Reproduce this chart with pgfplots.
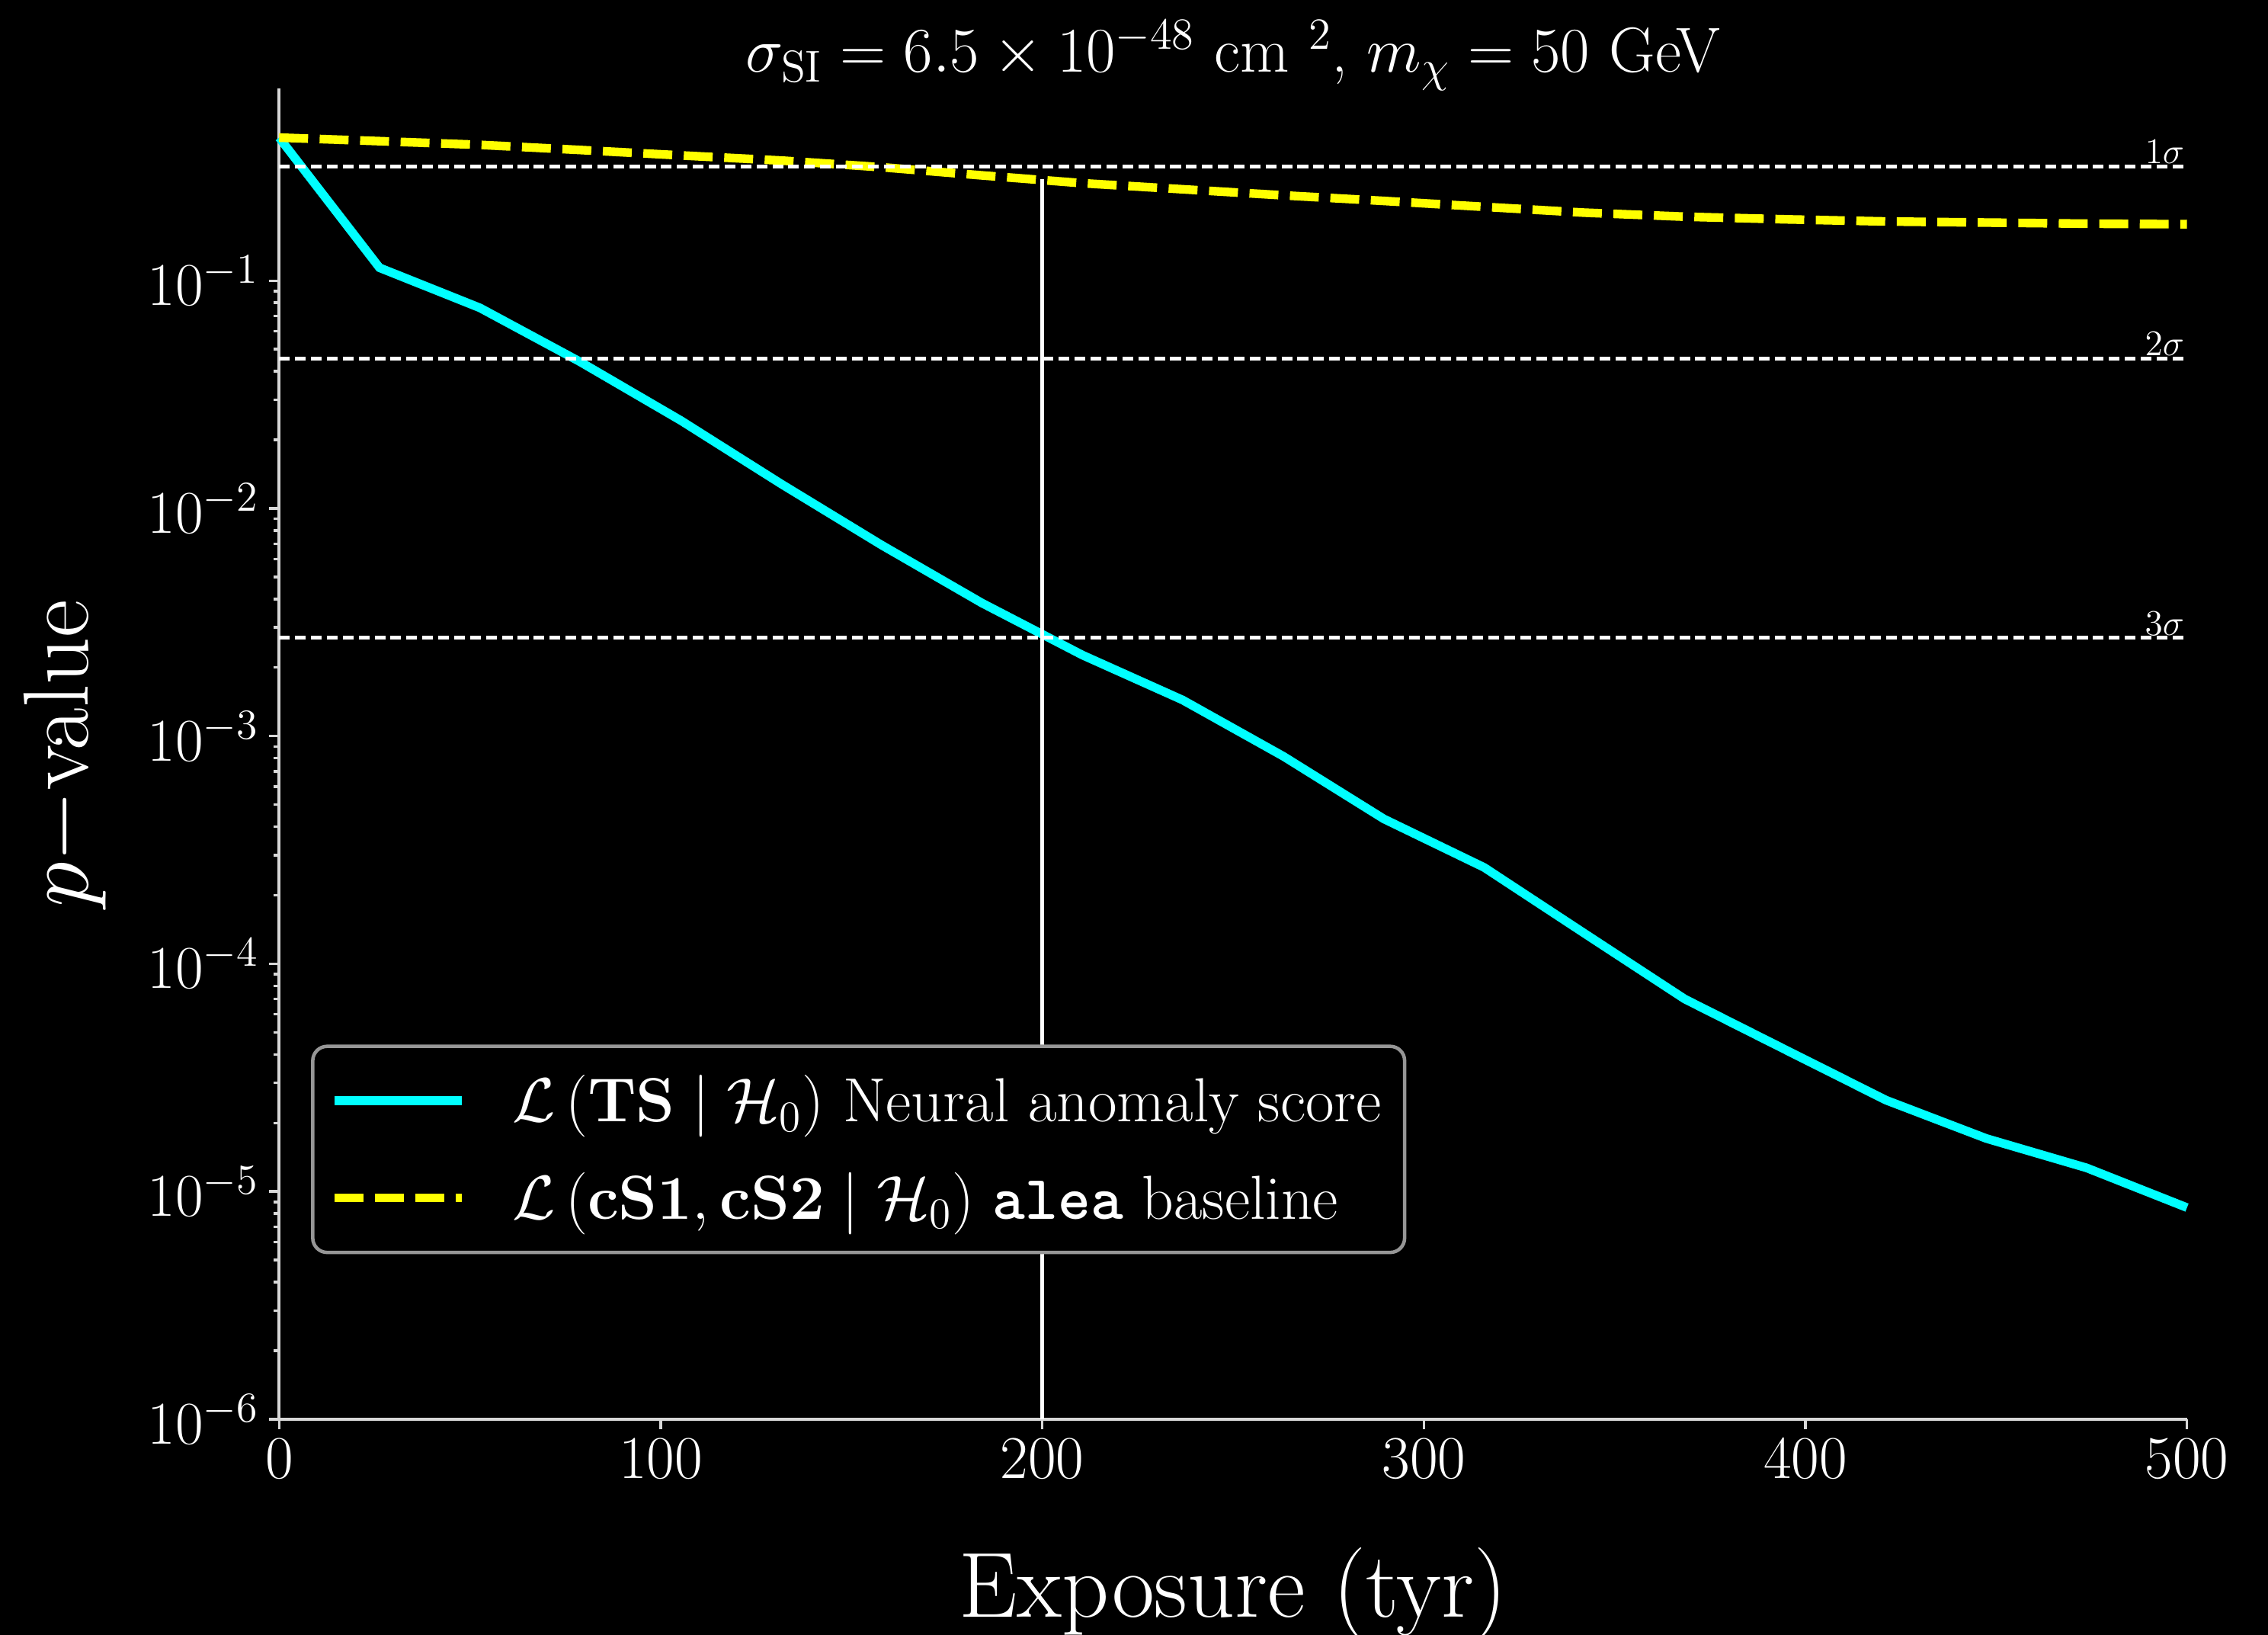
\RequirePackage{fix-cm}
\documentclass[border=0pt]{standalone}
\usepackage{pgfplots}
\usepackage{pgfplotstable}
\pgfplotsset{compat=1.18}

\pgfplotstableread{
x nn base
0 0.425 0.425
26.3 0.114 0.41
52.6 0.076 0.395
78.9 0.044 0.375
105.3 0.0243 0.355
131.6 0.0128 0.337
157.9 0.0069 0.315
184.2 0.00384 0.29
210.5 0.00227 0.268
236.8 0.00144 0.252
263.2 0.000815 0.237
289.5 0.000433 0.224
315.8 0.000265 0.211
342.1 0.000136 0.199
368.4 0.000070 0.191
394.7 0.000042 0.186
421.1 0.0000252 0.182
447.4 0.0000171 0.180
473.7 0.0000127 0.178
500 0.0000085 0.177
}\datatable

\definecolor{cyanc}{RGB}{0,255,255}
\definecolor{yellowc}{RGB}{255,255,0}
\definecolor{spinec}{RGB}{215,215,215}
\definecolor{legedge}{RGB}{150,150,150}

\begin{document}
\begin{tikzpicture}
\path[use as bounding box, fill=black] (-96.5pt,-74.5pt) rectangle (687.5pt,490.5pt);
\begin{axis}[
  at={(0pt,0pt)}, anchor=south west,
  scale only axis, width=659.5pt, height=460pt,
  xmin=0, xmax=500, ymode=log, ymin=1e-6, ymax=0.7,
  axis x line*=bottom, axis y line*=left,
  axis line style={spinec, line width=1pt},
  xtick={0,100,200,300,400,500},
  ytick={1e-6,1e-5,1e-4,1e-3,1e-2,1e-1},
  tick align=outside,
  major tick length=3.5pt, minor tick length=2pt,
  every tick/.style={spinec, line width=0.9pt},
  tick label style={white, font=\fontsize{21}{25}\selectfont},
  legend style={at={(0.0167,0.124)}, anchor=south west, draw=legedge, fill=black,
    rounded corners=5pt, text=white, line width=1.2pt,
    font=\fontsize{21.5}{25}\selectfont, row sep=12pt, column sep=14pt,
    inner xsep=6pt, inner ysep=8pt},
  legend cell align=left,
  legend image code/.code={\draw[#1] (0pt,0pt) -- (44pt,0pt);},
  clip=false,
]
\addplot[cyanc, line width=3pt] table[x=x, y=nn] {\datatable};
\addlegendentry{$\mathcal{L}\left(\mathbf{TS}\;\middle|\;\mathcal{H}_0\right)$ Neural anomaly score}
\addplot[yellowc, line width=3pt, dash pattern=on 10pt off 4pt] table[x=x, y=base] {\datatable};
\addlegendentry{$\mathcal{L}\left(\mathbf{cS1},\mathbf{cS2}\;\middle|\;\mathcal{H}_0\right)$ \texttt{\bfseries alea} baseline}

\addplot[white, line width=1.3pt, dash pattern=on 3.7pt off 1.8pt, forget plot] coordinates {(0,0.3173) (500,0.3173)};
\addplot[white, line width=1.3pt, dash pattern=on 3.7pt off 1.8pt, forget plot] coordinates {(0,0.0455) (500,0.0455)};
\addplot[white, line width=1.3pt, dash pattern=on 3.7pt off 1.8pt, forget plot] coordinates {(0,0.0027) (500,0.0027)};
\addplot[white, line width=1.2pt, forget plot] coordinates {(200,1e-6) (200,0.28)};

\node[anchor=south east, white, font=\fontsize{12.5}{14}\selectfont, inner sep=0.8pt] at (axis cs:500,0.3173) {$1\sigma$};
\node[anchor=south east, white, font=\fontsize{12.5}{14}\selectfont, inner sep=0.8pt] at (axis cs:500,0.0455) {$2\sigma$};
\node[anchor=south east, white, font=\fontsize{12.5}{14}\selectfont, inner sep=0.8pt] at (axis cs:500,0.0027) {$3\sigma$};
\end{axis}
\node[anchor=base, white, font=\fontsize{32}{38}\selectfont] at (329.75pt,-68.5pt) {Exposure (tyr)};
\node[anchor=base, white, rotate=90, font=\fontsize{32}{38}\selectfont] at (-66pt,230pt) {$p-$value};
\node[anchor=base, white, font=\fontsize{22}{26}\selectfont] at (329.75pt,465.5pt) {$\sigma_{\mathrm{SI}} = 6.5 \times 10^{-48}$ cm $^{2}$, $m_\chi = 50$ GeV};
\end{tikzpicture}
\end{document}
